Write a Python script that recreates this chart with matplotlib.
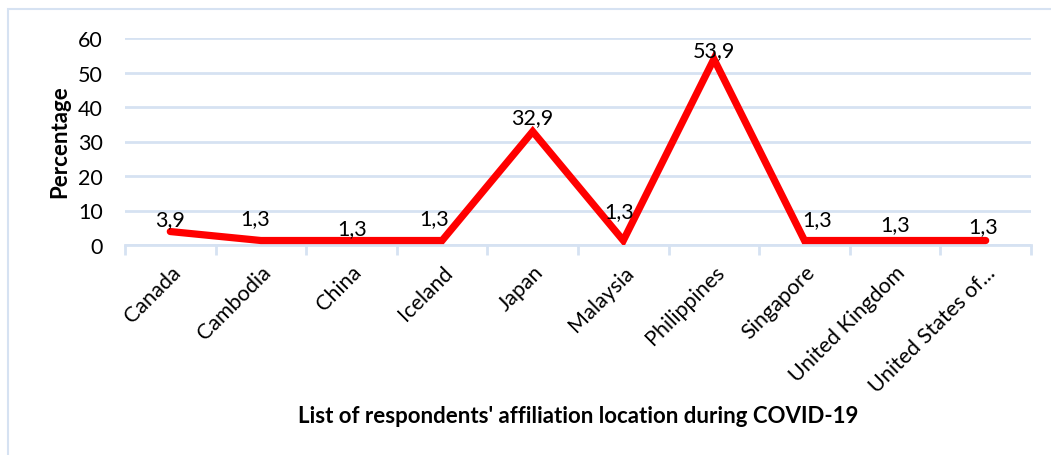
import matplotlib
matplotlib.use("Agg")
import matplotlib.pyplot as plt
from matplotlib.patches import Rectangle

plt.rcParams['font.family'] = ['Lato', 'DejaVu Sans']

countries = ["Canada", "Cambodia", "China", "Iceland", "Japan", "Malaysia",
             "Philippines", "Singapore", "United Kingdom", "United States of..."]
percentages = [3.9, 1.3, 1.3, 1.3, 32.9, 1.3, 53.9, 1.3, 1.3, 1.3]
value_labels = ["3,9", "1,3", "1,3", "1,3", "32,9", "1,3", "53,9", "1,3", "1,3", "1,3"]
yticks = [0, 10, 20, 30, 40, 50, 60]

# label offsets (pixels, dx, dy) to mimic the reference placement
label_offsets = [(0, 12), (-6, 22), (1, 12), (-8, 22), (0, 14), (-4, 29),
                 (0, 9), (13, 21), (0, 16), (-3, 14)]

W, H = 1051, 456
fig = plt.figure(figsize=(W / 100, H / 100), dpi=100)
ax = fig.add_axes([125 / W, 1 - 246 / H, (1031 - 125) / W, (246 - 39) / H])

grid_c = '#D6E2F2'
FS = 15.5
x = list(range(len(countries)))
ax.set_xlim(-0.5, len(countries) - 0.5)
ax.set_ylim(0, 60)
ax.set_yticks(yticks)
ax.set_yticklabels([str(v) for v in yticks], fontsize=FS)
ax.yaxis.grid(True, color=grid_c, linewidth=2)
ax.set_axisbelow(True)
for s in ['top', 'right', 'left']:
    ax.spines[s].set_visible(False)
ax.spines['bottom'].set_color(grid_c)
ax.spines['bottom'].set_linewidth(2)
ax.tick_params(axis='y', length=0, pad=16)

ax.set_xticks(x)
ax.set_xticklabels(countries, rotation=45, ha='right', va='top',
                   rotation_mode='anchor', fontsize=FS)
ax.tick_params(axis='x', which='major', length=0, pad=12)
ax.set_xticks([i - 0.5 for i in range(len(countries) + 1)], minor=True)
ax.tick_params(axis='x', which='minor', length=7, width=2, color=grid_c)

ax.plot(x, percentages, color='#FF0000', linewidth=5.2,
        solid_capstyle='round', solid_joinstyle='miter', zorder=3)

for xi, yi, lab, (dx, dy) in zip(x, percentages, value_labels, label_offsets):
    ax.annotate(lab, (xi, yi), xytext=(dx * 0.72, dy * 0.72),
                textcoords='offset points', ha='center', va='center',
                fontsize=FS, color='black', zorder=4)

fig.text(60 / W, 1 - 142 / H, "Percentage", rotation=90, ha='center',
         va='center', fontsize=16, fontweight='bold')
fig.text(578 / W, 1 - 417 / H, "List of respondents' affiliation location during COVID-19",
         ha='center', va='center', fontsize=16, fontweight='bold')

fig.patches.append(Rectangle((8 / W, -0.1), 1.2, 1 - 10 / H + 0.1,
                             transform=fig.transFigure, fill=False,
                             edgecolor=grid_c, linewidth=1.5))

fig.savefig("out.png", dpi=100)
